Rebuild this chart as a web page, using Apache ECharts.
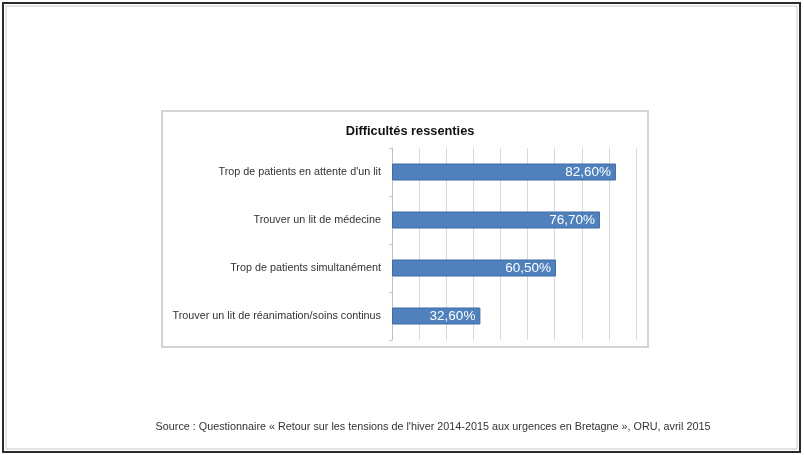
<!DOCTYPE html>
<html>
<head>
<meta charset="utf-8">
<script src="https://cdn.jsdelivr.net/npm/echarts@6/dist/echarts.min.js"></script>
<style>
  html, body { margin: 0; padding: 0; background: #fff; }
  #chart { width: 804px; height: 455px; }
</style>
</head>
<body>
<div id="chart"></div>
<script>
// Difficultés ressenties par les services d'urgence (hiver 2014-2015)
const categories = [
  "Trop de patients en attente d'un lit",
  "Trouver un lit de médecine",
  "Trop de patients simultanément",
  "Trouver un lit de réanimation/soins continus"
];
const values = [82.6, 76.7, 60.5, 32.6];
const axisTicks = [0, 10, 20, 30, 40, 50, 60, 70, 80, 90];
const chartTitle = "Difficultés ressenties";
const sourceNote = "Source : Questionnaire « Retour sur les tensions de l'hiver 2014-2015 aux urgences en Bretagne », ORU, avril 2015";

const fmt = v => v.toFixed(2).replace('.', ',') + '%';

const chart = echarts.init(document.getElementById('chart'), null, { renderer: 'canvas' });
chart.setOption({
  backgroundColor: '#ffffff',
  animation: false,
  title: {
    text: chartTitle,
    left: 405,
    top: 120,
    textAlign: 'center',
    textStyle: { fontFamily: 'Liberation Sans', fontSize: 12.8, fontWeight: 'bold', color: '#111' }
  },
  grid: { left: 392, right: 168, top: 148, bottom: 115, containLabel: false },
  xAxis: {
    type: 'value',
    min: axisTicks[0],
    max: axisTicks[axisTicks.length - 1],
    interval: axisTicks[1] - axisTicks[0],
    axisLine: { show: false },
    axisTick: { show: false },
    axisLabel: { show: false },
    splitLine: { show: true, lineStyle: { color: '#d9d9d9', width: 1 } }
  },
  yAxis: {
    type: 'category',
    inverse: true,
    data: categories,
    axisLine: { show: true, lineStyle: { color: '#c0c0c0', width: 1 } },
    axisTick: { show: true, length: 3, lineStyle: { color: '#c0c0c0' } },
    axisLabel: { fontFamily: 'Liberation Sans', fontSize: 10.8, color: '#333', margin: 11 }
  },
  series: [{
    type: 'bar',
    data: values,
    barWidth: 17,
    itemStyle: { color: '#4f81bd', borderColor: '#3d6ca5', borderWidth: 1 },
    label: {
      show: true,
      position: 'insideRight',
      distance: 5,
      formatter: p => fmt(p.value),
      fontFamily: 'Liberation Sans',
      fontSize: 13.5,
      color: '#ffffff'
    }
  }],
  graphic: [
    {
      type: 'rect',
      shape: { x: 3, y: 3, width: 797, height: 449 },
      style: { fill: null, stroke: '#2a2a2a', lineWidth: 2 },
      silent: true
    },
    {
      type: 'rect',
      shape: { x: 6, y: 6, width: 791, height: 443 },
      style: { fill: null, stroke: '#c8c8c8', lineWidth: 1 },
      silent: true
    },
    {
      type: 'rect',
      shape: { x: 162, y: 111, width: 486, height: 236 },
      style: { fill: null, stroke: '#d4d4d4', lineWidth: 2 },
      silent: true
    },
    {
      type: 'text',
      x: 433,
      y: 427,
      style: {
        text: sourceNote,
        fontFamily: 'Liberation Sans',
        fontSize: 10.8,
        fill: '#333',
        align: 'center',
        verticalAlign: 'middle'
      },
      silent: true
    }
  ]
});
</script>
</body>
</html>
